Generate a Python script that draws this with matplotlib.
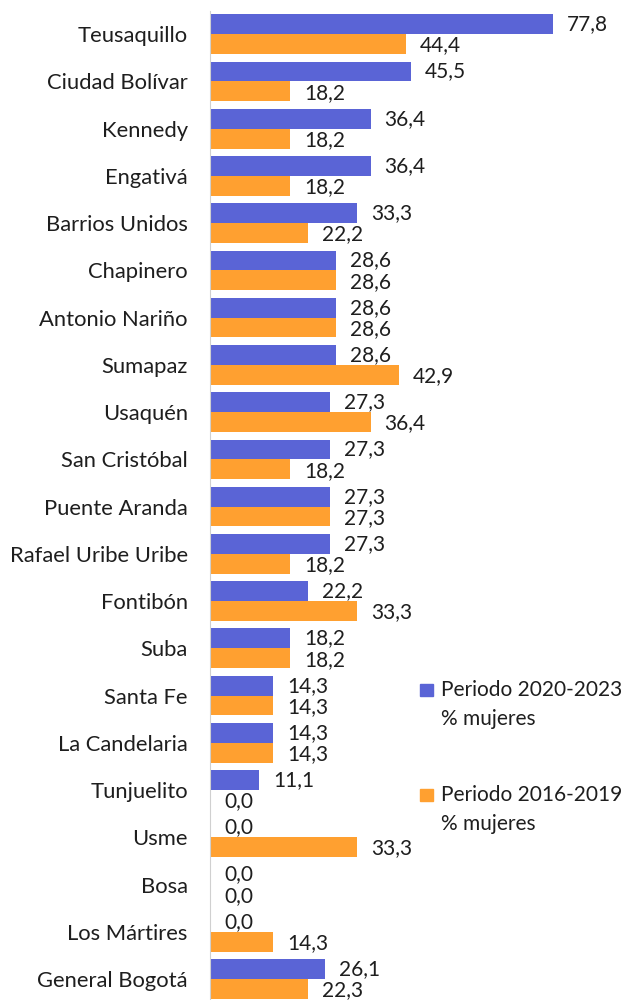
import matplotlib.pyplot as plt
from matplotlib.patches import Rectangle
import numpy as np

categorias = ['Teusaquillo', 'Ciudad Bolívar', 'Kennedy', 'Engativá', 'Barrios Unidos',
              'Chapinero', 'Antonio Nariño', 'Sumapaz', 'Usaquén', 'San Cristóbal',
              'Puente Aranda', 'Rafael Uribe Uribe', 'Fontibón', 'Suba', 'Santa Fe',
              'La Candelaria', 'Tunjuelito', 'Usme', 'Bosa', 'Los Mártires', 'General Bogotá']
periodo_2020 = [77.8, 45.5, 36.4, 36.4, 33.3, 28.6, 28.6, 28.6, 27.3, 27.3, 27.3,
                27.3, 22.2, 18.2, 14.3, 14.3, 11.1, 0.0, 0.0, 0.0, 26.1]
periodo_2016 = [44.4, 18.2, 18.2, 18.2, 22.2, 28.6, 28.6, 42.9, 36.4, 18.2, 27.3,
                18.2, 33.3, 18.2, 14.3, 14.3, 0.0, 33.3, 0.0, 14.3, 22.3]
etiquetas = ['Periodo 2020-2023', 'Periodo 2016-2019']

azul = '#5A64D6'
naranja = '#FFA030'
texto = '#1E1E1E'

plt.rcParams['font.family'] = ['Lato', 'DejaVu Sans']
fs = 15

fig = plt.figure(figsize=(6.29, 10), dpi=100)
ax = fig.add_axes([0.334, -0.0026, 0.631, 0.992])

y = np.arange(len(categorias))
h = 0.42
ax.barh(y - h / 2, periodo_2020, height=h, color=azul)
ax.barh(y + h / 2, periodo_2016, height=h, color=naranja)

def fmt(v):
    return f'{v:.1f}'.replace('.', ',')

for yy, v in zip(y, periodo_2020):
    ax.annotate(fmt(v), (v, yy - h / 2), xytext=(10, 0), textcoords='offset points',
                ha='left', va='center', fontsize=fs, color=texto)
for yy, v in zip(y, periodo_2016):
    ax.annotate(fmt(v), (v, yy + h / 2), xytext=(10, -1), textcoords='offset points',
                ha='left', va='center', fontsize=fs, color=texto)

ax.set_xlim(0, 90)
ax.set_ylim(len(categorias) - 0.5, -0.5)
ax.set_yticks(y)
ax.set_yticklabels(categorias, fontsize=15.8, color=texto)
ax.tick_params(axis='y', length=0, pad=16)
ax.set_xticks([])
for s in ['top', 'right', 'bottom']:
    ax.spines[s].set_visible(False)
ax.spines['left'].set_color('#D0D0D0')

# leyenda
for lab, col, yl in zip(etiquetas, [azul, naranja], [0.310, 0.205]):
    fig.patches.append(Rectangle((420 / 629, yl - 0.006), 13 / 629, 0.012,
                                 transform=fig.transFigure, color=col))
    fig.text(441 / 629, yl, lab, fontsize=fs, color=texto, va='center', ha='left')
    fig.text(441 / 629, yl - 0.029, '% mujeres', fontsize=fs, color=texto, va='center', ha='left')

fig.savefig('out.png', dpi=100)
